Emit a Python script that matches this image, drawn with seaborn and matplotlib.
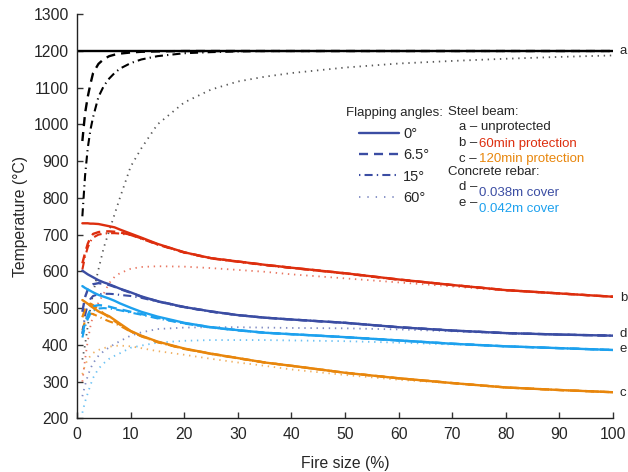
import matplotlib
matplotlib.use("Agg")
import matplotlib.pyplot as plt
import seaborn as sns
import pandas as pd
from matplotlib.lines import Line2D

# ---------------- data ----------------
fire_size = [1, 1.5, 2, 2.5, 3, 4, 5, 6, 7, 8, 10, 12, 15, 20, 25, 30, 35, 40, 50, 60, 70, 80, 90, 100]
fire_size_a0 = [0, 100]

# a - steel beam, unprotected
a_0 = [1200, 1200]
a_65 = [955, 1030, 1075, 1110, 1140, 1165, 1178, 1186, 1190, 1193, 1196, 1198, 1199, 1200, 1200, 1200, 1200, 1200, 1200, 1200, 1200, 1200, 1200, 1200]
a_15 = [750, 860, 935, 985, 1020, 1075, 1105, 1125, 1140, 1152, 1167, 1177, 1186, 1194, 1197, 1199, 1200, 1200, 1200, 1200, 1200, 1200, 1200, 1200]
a_60 = [360, 400, 450, 500, 540, 605, 665, 710, 755, 800, 885, 935, 1000, 1060, 1095, 1117, 1130, 1140, 1155, 1166, 1173, 1179, 1184, 1188]

# b - steel beam, 60min protection
b_0 = [731, 731, 731, 730, 730, 729, 726, 723, 720, 714, 703, 692, 675, 652, 636, 627, 618, 610, 595, 578, 563, 549, 540, 531]
b_65 = [622, 650, 675, 692, 702, 707, 709, 709, 708, 706, 700, 690, 674, 652, 636, 627, 618, 610, 595, 578, 563, 549, 540, 531]
b_15 = [605, 640, 665, 682, 692, 700, 703, 704, 704, 703, 699, 689, 673, 651, 635, 626, 617, 609, 594, 577, 563, 549, 540, 531]
b_60 = [300, 360, 410, 450, 480, 515, 540, 568, 585, 595, 607, 612, 614, 613, 609, 604, 599, 592, 581, 570, 559, 548, 539, 531]

# c - steel beam, 120min protection
c_0 = [522, 517, 512, 506, 501, 491, 484, 478, 468, 458, 438, 425, 409, 390, 376, 364, 352, 343, 324, 309, 296, 284, 277, 271]
c_65 = [475, 497, 507, 512, 508, 496, 485, 475, 465, 455, 437, 424, 408, 389, 376, 364, 352, 343, 324, 309, 296, 284, 277, 271]
c_15 = [440, 465, 480, 485, 484, 477, 470, 464, 459, 452, 436, 423, 407, 389, 375, 363, 352, 343, 324, 309, 296, 284, 277, 271]
c_60 = [320, 345, 360, 370, 378, 386, 391, 395, 397, 398, 396, 391, 383, 373, 362, 352, 343, 333, 318, 305, 295, 284, 277, 271]

# d - concrete rebar, 0.038m cover
d_0 = [602, 597, 592, 588, 584, 576, 570, 565, 559, 553, 543, 532, 519, 503, 491, 481, 474, 469, 460, 448, 439, 432, 428, 425]
d_65 = [490, 530, 550, 560, 565, 568, 566, 563, 558, 552, 542, 531, 519, 503, 491, 481, 474, 469, 460, 448, 439, 432, 428, 425]
d_15 = [430, 480, 510, 525, 533, 538, 539, 539, 538, 536, 533, 528, 518, 502, 490, 481, 474, 469, 460, 448, 439, 432, 428, 425]
d_60 = [260, 290, 315, 335, 350, 370, 383, 393, 402, 410, 425, 434, 443, 447, 448, 448, 447, 446, 445, 442, 437, 431, 428, 425]

# e - concrete rebar, 0.042m cover
e_0 = [560, 555, 551, 547, 543, 536, 531, 526, 520, 513, 501, 490, 477, 460, 448, 440, 433, 429, 421, 412, 403, 396, 391, 386]
e_65 = [430, 460, 480, 497, 505, 508, 507, 504, 500, 497, 490, 484, 474, 459, 448, 440, 433, 429, 421, 412, 403, 396, 391, 386]
e_15 = [420, 450, 470, 485, 493, 499, 500, 499, 497, 494, 488, 482, 472, 458, 447, 439, 433, 429, 421, 412, 403, 396, 391, 386]
e_60 = [215, 245, 268, 290, 310, 335, 350, 362, 370, 377, 392, 398, 406, 411, 413, 413, 413, 412, 410, 406, 401, 396, 391, 386]

angle_labels = ["0°", "6.5°", "15°", "60°"]
x_ticks = [0, 10, 20, 30, 40, 50, 60, 70, 80, 90, 100]
y_ticks = [200, 300, 400, 500, 600, 700, 800, 900, 1000, 1100, 1200, 1300]

# ---------------- style ----------------
sns.set_style("ticks")
plt.rcParams["font.family"] = ["Liberation Sans", "DejaVu Sans"]
plt.rcParams["lines.scale_dashes"] = False

BLACK = "#000000"
RED = "#DD2E0E"
ORANGE = "#E8860C"
DBLUE = "#3B4DA3"
LBLUE = "#1DA1EE"

DASH = (6.5, 4.3)
DASHDOT = (5.8, 3.0, 0.9, 3.0)
DOT = (1.0, 3.4)

fig = plt.figure(figsize=(6.28, 4.72), dpi=100)
ax = fig.add_axes([77 / 628, 1 - 418.3 / 472, (613 - 77) / 628, (418.3 - 14.3) / 472])

groups = [
    (BLACK, a_65, a_15, a_60),
    (RED, b_65, b_15, b_60),
    (ORANGE, c_65, c_15, c_60),
    (DBLUE, d_65, d_15, d_60),
    (LBLUE, e_65, e_15, e_60),
]
solids = [(RED, b_0), (ORANGE, c_0), (DBLUE, d_0), (LBLUE, e_0)]

# dotted (60°) first, underneath
for color, s65, s15, s60 in groups:
    sns.lineplot(x=fire_size, y=s60, ax=ax, color=color, lw=1.3, alpha=0.65,
                 linestyle=(0, DOT), errorbar=None)
for color, s65, s15, s60 in groups:
    sns.lineplot(x=fire_size, y=s15, ax=ax, color=color, lw=1.5,
                 linestyle=(0, DASHDOT), errorbar=None)
for color, s65, s15, s60 in groups:
    sns.lineplot(x=fire_size, y=s65, ax=ax, color=color, lw=1.7,
                 linestyle=(0, DASH), errorbar=None)
for color, s0 in solids:
    sns.lineplot(x=fire_size, y=s0, ax=ax, color=color, lw=1.7, errorbar=None)
sns.lineplot(x=fire_size_a0, y=a_0, ax=ax, color=BLACK, lw=1.7, errorbar=None)

ax.set_xlim(0, 100)
ax.set_ylim(200, 1300)
ax.set_xticks(x_ticks)
ax.set_yticks(y_ticks)
ax.tick_params(direction="in", length=4, width=1, labelsize=11.3, pad=6, color="#333333")
for side in ["left", "bottom"]:
    ax.spines[side].set_linewidth(1.0)
    ax.spines[side].set_color("#222222")
sns.despine(ax=ax)
ax.set_xlabel("Fire size (%)", fontsize=11.3, labelpad=10)
ax.set_ylabel("Temperature (°C)", fontsize=11.3, labelpad=4)

# curve letters on the right
end_labels = [("a", 1200), ("b", 527), ("c", 268), ("d", 429), ("e", 389)]
for lab, yv in end_labels:
    ax.text(101.3, yv, lab, fontsize=9.5, ha="left", va="center", clip_on=False)

# ---------------- legend ----------------
def px(x, y):
    return x / 628, 1 - y / 472

FS = 9.5
fig.text(*px(345.7, 113), "Flapping angles:", fontsize=FS, va="center", ha="left")
handles = [
    Line2D([], [], color=DBLUE, lw=1.7),
    Line2D([], [], color=DBLUE, lw=1.7, linestyle=(0, DASH)),
    Line2D([], [], color=DBLUE, lw=1.5, linestyle=(0, (1.0, 3.0, 5.8, 3.0))),
    Line2D([], [], color=DBLUE, lw=1.3, alpha=0.65, linestyle=(0, (1.0, 5.0))),
]
leg = fig.legend(handles, angle_labels, loc="upper left", bbox_to_anchor=px(359, 127),
                 frameon=False, fontsize=10.5, handlelength=2.74, handletextpad=0.3,
                 labelspacing=0.5, borderpad=0, borderaxespad=0)

fig.text(*px(448, 112), "Steel beam:", fontsize=FS, va="center")
fig.text(*px(459, 127), "a – unprotected", fontsize=FS, va="center")
fig.text(*px(459, 143), "b –", fontsize=FS, va="center")
fig.text(*px(479, 143.5), "60min protection", fontsize=FS, va="center", color=RED)
fig.text(*px(459, 159), "c –", fontsize=FS, va="center")
fig.text(*px(479, 159.5), "120min protection", fontsize=FS, va="center", color=ORANGE)
fig.text(*px(448, 172), "Concrete rebar:", fontsize=FS, va="center")
fig.text(*px(459, 187), "d –", fontsize=FS, va="center")
fig.text(*px(479, 193), "0.038m cover", fontsize=FS, va="center", color=DBLUE)
fig.text(*px(459, 203), "e –", fontsize=FS, va="center")
fig.text(*px(479, 209.5), "0.042m cover", fontsize=FS, va="center", color=LBLUE)

fig.savefig("out.png", dpi=100)
